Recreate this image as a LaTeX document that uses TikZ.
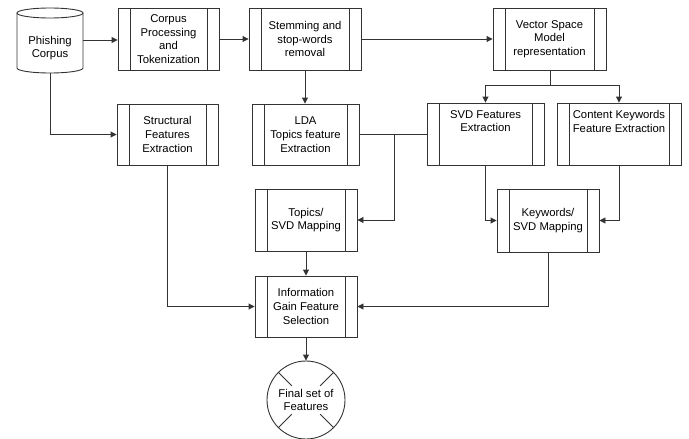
\documentclass[tikz,border=0pt]{standalone}
\usepackage{fontspec}
\setmainfont{Liberation Sans}
\usetikzlibrary{arrows.meta,calc}
\begin{document}
\begin{tikzpicture}[x=1pt,y=-1pt,
  line width=0.9pt,
  every node/.style={font=\fontsize{11.3}{13.7}\selectfont, align=center, inner sep=0pt},
  proc/.style={draw=black!80, rectangle, minimum height=62pt,
    path picture={
      \draw[black!80,line width=0.9pt] ([xshift=12pt]path picture bounding box.north west) -- ([xshift=12pt]path picture bounding box.south west);
      \draw[black!80,line width=0.9pt] ([xshift=-12pt]path picture bounding box.north east) -- ([xshift=-12pt]path picture bounding box.south east);
    }},
  conn/.style={draw=black!80, line width=0.9pt},
  arr/.style={conn, -{Triangle[length=6pt,width=6pt]}}
]
\useasboundingbox (0,0) rectangle (689,439);

% cylinder
\node[minimum width=66pt, minimum height=65pt] (cyl) at (50,40.5) {};
\draw[black!80] (17,13) -- (17,68) arc[start angle=180,end angle=360,x radius=33,y radius=-5] -- (83,13);
\draw[black!80] (50,13) ellipse[x radius=33, y radius=5];
\node (cyltext) at (50,48) {Phishing\\Corpus};

\node[proc, minimum width=101pt] (corp) at (168.5,39) {Corpus\\Processing\\and\\Tokenization};
\node[proc, minimum width=112pt] (stem) at (305,39) {Stemming and\\stop-words\\removal};
\node[proc, minimum width=113pt] (vsm) at (549.5,39) {Vector Space\\Model\\representation};

\node[proc, minimum width=101pt, minimum height=61pt] (struct) at (167.5,134.5) {Structural\\Features\\Extraction};
\node[proc, minimum width=107pt, minimum height=61pt] (lda) at (305.5,134.5) {LDA\\Topics feature\\Extraction};
\node[proc, minimum width=117pt] (svd) at (485.5,134) {SVD Features\\Extraction\\[12pt]};
\node[proc, minimum width=124pt] (ckw) at (619,134) {Content Keywords\\Feature Extraction\\[12pt]};

\node[proc, minimum width=102pt] (topics) at (306,220) {Topics/\\SVD Mapping};
\node[proc, minimum width=102pt, minimum height=63pt] (kw) at (548,220.5) {Keywords/\\SVD Mapping};

\node[proc, minimum width=102pt, minimum height=61pt] (info) at (306,306.5) {Information\\Gain Feature\\Selection};

\node[draw=black!80, circle, minimum size=78pt] (fin) at (306,400) {Final set of\\Features};
\foreach \a in {45,135,225,315}
  \draw[black!80] ($(fin.center)+(\a:20pt)$) -- (fin.\a);

% connectors
\coordinate (c1) at (83,40);
\draw[arr] (c1) -- (c1 -| corp.west);
\draw[arr] (corp.east) -- (stem.west);
\draw[arr] (stem.east) -- (vsm.west);

\coordinate (vsplit) at (550,85);
\draw[conn] (vsm.south -| vsplit) -- (vsplit);
\draw[arr] (vsplit) -| (svd.north);
\draw[arr] (vsplit) -| (ckw.north);

\draw[arr] (stem.south) -- (stem.south |- lda.north);

\coordinate (cb) at (50,73);
\draw[arr] (cb) |- (struct.west);

\draw[conn] (lda.east) -- (lda.east -| svd.west);
\coordinate (ldaj) at (394,134.5);
\draw[arr] (ldaj) |- (topics.east);

\draw[arr] (svd.south) |- (kw.west);
\draw[arr] (ckw.south) |- (kw.east);

\draw[arr] (topics.south) -- (info.north);
\draw[arr] (struct.south) |- (info.west);
\draw[arr] (kw.south) |- (info.east);
\draw[arr] (info.south) -- (fin.north);
\end{tikzpicture}
\end{document}
